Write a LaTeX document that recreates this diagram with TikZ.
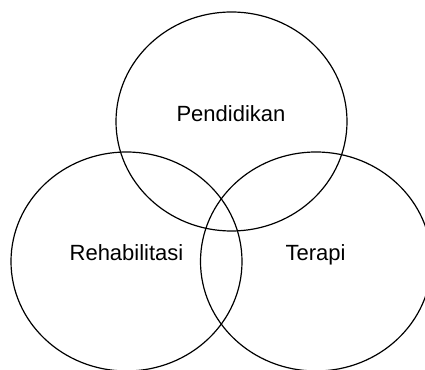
\documentclass[tikz,border=0pt]{standalone}
\usepackage{fontspec}
\setmainfont{Liberation Sans}
\usetikzlibrary{shapes.geometric}
\begin{document}
\begin{tikzpicture}[x=1pt,y=1pt,
  circ/.style={draw=black,line width=1.2pt,ellipse,inner sep=0pt,minimum width=231pt,minimum height=219pt},
  lbl/.style={anchor=base,inner sep=0pt,font=\fontsize{22}{26}\selectfont}]
\useasboundingbox (0,0) rectangle (425,369);
\node[circ] (top) at (231.5,247.5) {};
\node[circ] (left) at (126.5,107.5) {};
\node[circ] (right) at (316,107.5) {};
\node[lbl] (pend) at (231,247) {Pendidikan};
\node[lbl] (reha) at (126.5,108) {Rehabilitasi};
\node[lbl] (tera) at (315.5,108) {Terapi};
\end{tikzpicture}
\end{document}
